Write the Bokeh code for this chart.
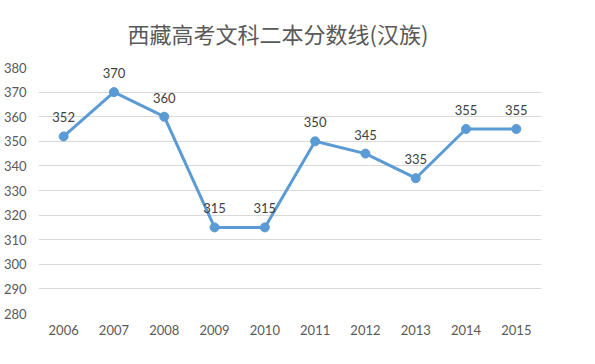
from bokeh.plotting import figure
from bokeh.models import ColumnDataSource, LabelSet, FactorRange
from bokeh.embed import file_html
from bokeh.resources import INLINE
from bokeh.core.properties import value

years = ["2006", "2007", "2008", "2009", "2010", "2011", "2012", "2013", "2014", "2015"]
scores = [352, 370, 360, 315, 315, 350, 345, 335, 355, 355]
y_ticks = [280, 290, 300, 310, 320, 330, 340, 350, 360, 370, 380]
title_text = "西藏高考文科二本分数线(汉族)"

src = ColumnDataSource(dict(x=years, y=scores, lbl=[str(v) for v in scores]))

p = figure(width=579, height=348, output_backend="svg", toolbar_location=None,
           x_range=FactorRange(*years), y_range=(280, 380),
           min_border_left=30, min_border_right=38, min_border_top=66, min_border_bottom=35)
p.title.text = title_text
p.title.align = "left"
p.title.offset = 89
p.title.standoff = 33
p.title.vertical_align = "top"
p.title.text_font = "Noto Sans CJK SC"
p.title.text_font_size = "22px"
p.title.text_font_style = "normal"
p.title.text_color = "#595959"

p.line("x", "y", source=src, line_color="#5B9BD5", line_width=3)
p.scatter("x", "y", source=src, size=9, fill_color="#5B9BD5", line_color="#5B9BD5")

labels = LabelSet(x="x", y="y", text="lbl", source=src, y_offset=14,
                  text_align="center", text_baseline="bottom",
                  text_font=value("Lato"), text_font_size="13px", text_color="#404040")
p.add_layout(labels)

p.outline_line_color = None
p.xgrid.grid_line_color = None
p.ygrid.grid_line_color = "#D9D9D9"
p.ygrid.grid_line_width = 1
p.yaxis.ticker = y_ticks
for ax in (p.xaxis, p.yaxis):
    ax.axis_line_color = None
    ax.major_tick_line_color = None
    ax.minor_tick_line_color = None
    ax.major_label_text_font = "Lato"
    ax.major_label_text_font_size = "13px"
    ax.major_label_text_color = "#595959"
p.yaxis.major_label_standoff = 6
p.xaxis.major_label_standoff = 5

open("out.html", "w").write(file_html(p, INLINE))
